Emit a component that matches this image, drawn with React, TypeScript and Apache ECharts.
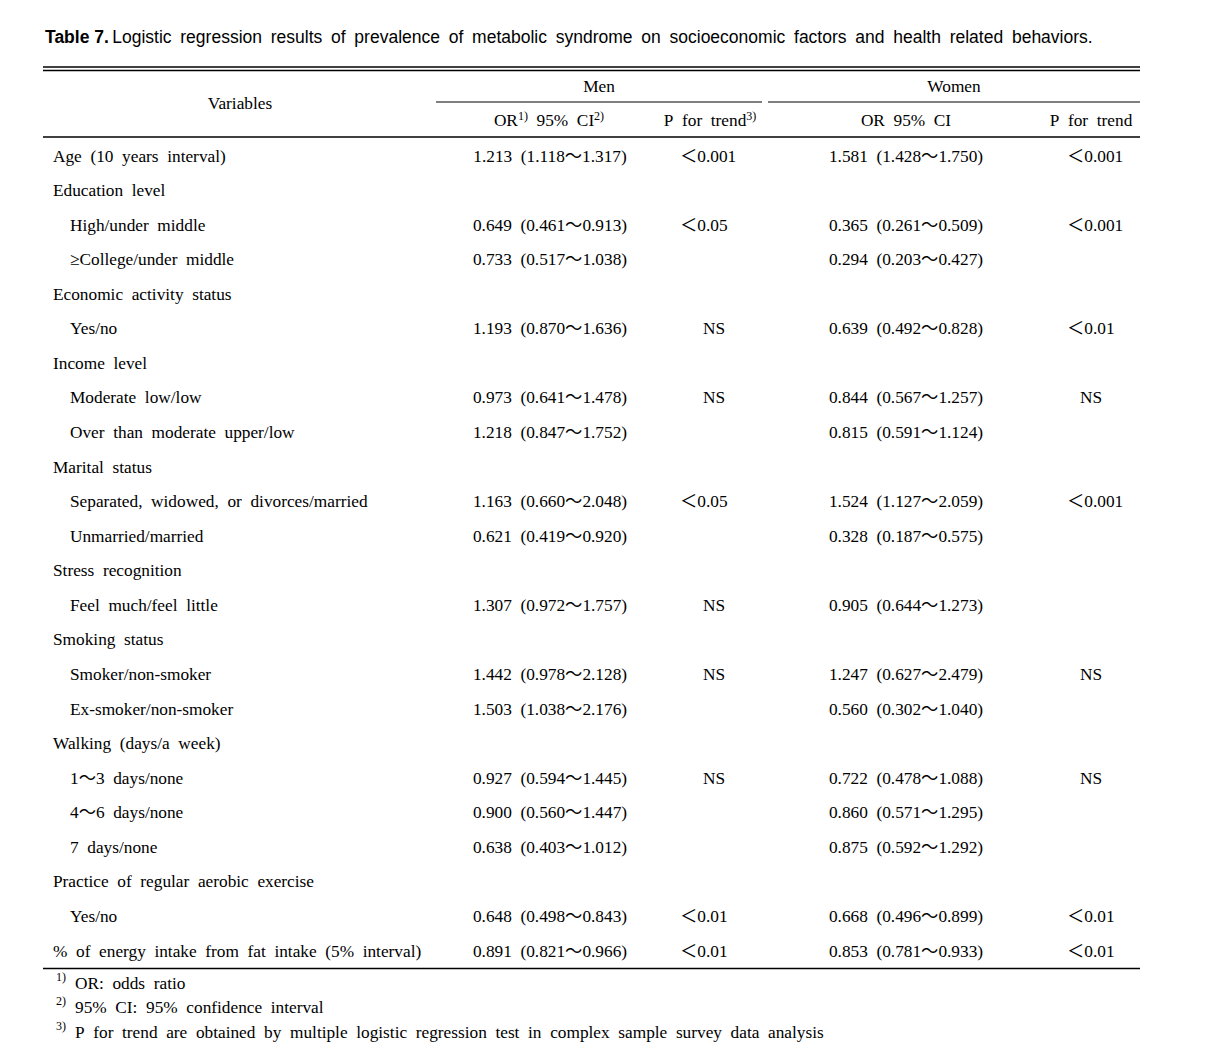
import React, { useEffect, useRef } from "react";
import * as echarts from "echarts";

const titleBold = "Table 7.";
const titleText = "Logistic regression results of prevalence of metabolic syndrome on socioeconomic factors and health related behaviors.";

const groupHeaders = ["Men", "Women"];
const subHeaders = ["OR{s|1)} 95% CI{s|2)}", "P for trend{s|3)}", "OR 95% CI", "P for trend"];

const variables = [
  "Age (10 years interval)",
  "Education level",
  "High/under middle",
  "≥College/under middle",
  "Economic activity status",
  "Yes/no",
  "Income level",
  "Moderate low/low",
  "Over than moderate upper/low",
  "Marital status",
  "Separated, widowed, or divorces/married",
  "Unmarried/married",
  "Stress recognition",
  "Feel much/feel little",
  "Smoking status",
  "Smoker/non-smoker",
  "Ex-smoker/non-smoker",
  "Walking (days/a week)",
  "1～3 days/none",
  "4～6 days/none",
  "7 days/none",
  "Practice of regular aerobic exercise",
  "Yes/no",
  "% of energy intake from fat intake (5% interval)",
];
const levels = [0, 0, 1, 1, 0, 1, 0, 1, 1, 0, 1, 1, 0, 1, 0, 1, 1, 0, 1, 1, 1, 0, 1, 0];

const menOR = [1.213, null, 0.649, 0.733, null, 1.193, null, 0.973, 1.218, null, 1.163, 0.621, null, 1.307, null, 1.442, 1.503, null, 0.927, 0.9, 0.638, null, 0.648, 0.891];
const menLo = [1.118, null, 0.461, 0.517, null, 0.87, null, 0.641, 0.847, null, 0.66, 0.419, null, 0.972, null, 0.978, 1.038, null, 0.594, 0.56, 0.403, null, 0.498, 0.821];
const menHi = [1.317, null, 0.913, 1.038, null, 1.636, null, 1.478, 1.752, null, 2.048, 0.92, null, 1.757, null, 2.128, 2.176, null, 1.445, 1.447, 1.012, null, 0.843, 0.966];
const menP = ["<0.001", "", "<0.05", "", "", "NS", "", "NS", "", "", "<0.05", "", "", "NS", "", "NS", "", "", "NS", "", "", "", "<0.01", "<0.01"];

const womenOR = [1.581, null, 0.365, 0.294, null, 0.639, null, 0.844, 0.815, null, 1.524, 0.328, null, 0.905, null, 1.247, 0.56, null, 0.722, 0.86, 0.875, null, 0.668, 0.853];
const womenLo = [1.428, null, 0.261, 0.203, null, 0.492, null, 0.567, 0.591, null, 1.127, 0.187, null, 0.644, null, 0.627, 0.302, null, 0.478, 0.571, 0.592, null, 0.496, 0.781];
const womenHi = [1.75, null, 0.509, 0.427, null, 0.828, null, 1.257, 1.124, null, 2.059, 0.575, null, 1.273, null, 2.479, 1.04, null, 1.088, 1.295, 1.292, null, 0.899, 0.933];
const womenP = ["<0.001", "", "<0.001", "", "", "<0.01", "", "NS", "", "", "<0.001", "", "", "", "", "NS", "", "", "NS", "", "", "", "<0.01", "<0.01"];

const footnoteMarks = ["1)", "2)", "3)"];
const footnotes = [
  "OR: odds ratio",
  "95% CI: 95% confidence interval",
  "P for trend are obtained by multiple logistic regression test in complex sample survey data analysis",
];

const SERIF = "'Liberation Serif', 'Noto Sans CJK KR', serif";
const SANS = "'Liberation Sans', 'Noto Sans CJK KR', sans-serif";
const FS = 17.3;
const SP = "\u2002";
const wide = (s: string) => s.replace(/ /g, SP).replace(/</g, "＜");

const fmt = (o: number | null, lo: number | null, hi: number | null) =>
  o == null ? "" : `${o.toFixed(3)}${SP}(${(lo as number).toFixed(3)}～${(hi as number).toFixed(3)})`;

function buildGraphics() {
  const els: any[] = [];
  const L = 43, R = 1140;
  const line = (x1: number, y1: number, x2: number, y2: number, w = 1.3) =>
    els.push({ type: "line", shape: { x1, y1, x2, y2 }, style: { stroke: "#000", lineWidth: w } });
  const text = (x: number, y: number, t: string, align = "left", extra: any = {}) =>
    els.push({
      type: "text",
      x,
      y,
      style: {
        text: t,
        fill: "#000",
        font: `${FS}px ${SERIF}`,
        fontFamily: SERIF,
        fontSize: FS,
        align,
        verticalAlign: "middle",
        ...extra,
      },
    });

  // title
  els.push({
    type: "text",
    x: 45,
    y: 37,
    style: {
      text: `{b|${titleBold}} {n|${titleText.replace(/ /g, SP)}}`,
      verticalAlign: "middle",
      rich: {
        b: { fontFamily: SANS, fontSize: 17.5, fontWeight: "bold", fill: "#000" },
        n: { fontFamily: SANS, fontSize: 17.5, fill: "#000" },
      },
    },
  });

  line(L, 67, R, 67);
  line(L, 70.5, R, 70.5);
  line(436, 102, 762, 102, 1.2);
  line(768, 102, R, 102, 1.2);
  line(L, 137, R, 137);
  line(L, 968.5, R, 968.5);

  text(240, 103, "Variables", "center");
  text(599, 86, groupHeaders[0], "center");
  text(954, 86, groupHeaders[1], "center");

  const subX = [549, 710, 906, 1091];
  const supRich = {
    m: { fontFamily: SERIF, fontSize: FS, fill: "#000", lineHeight: 20 },
    s: { fontFamily: SERIF, fontSize: 12, fill: "#000", verticalAlign: "top", lineHeight: 12 },
  };
  subHeaders.forEach((h, i) => {
    const parts = h.split(/(\{s\|[^}]*\})/).filter((p) => p.length);
    const rt = parts.map((p) => (p.startsWith("{s|") ? p : `{m|${p.replace(/ /g, SP)}}`)).join("");
    els.push({
      type: "text",
      x: subX[i],
      y: 120,
      style: { text: rt, align: "center", verticalAlign: "middle", rich: supRich },
    });
  });

  const y0 = 156, dy = (951 - 156) / 23;
  variables.forEach((v, i) => {
    const y = y0 + i * dy;
    text(levels[i] ? 70 : 53, y, wide(v));
    const m = fmt(menOR[i], menLo[i], menHi[i]);
    if (m) text(550, y, m, "center");
    const w = fmt(womenOR[i], womenLo[i], womenHi[i]);
    if (w) text(906, y, w, "center");
    if (menP[i]) {
      if (menP[i].startsWith("<")) text(680, y, wide(menP[i]));
      else text(714, y, menP[i], "center");
    }
    if (womenP[i]) {
      if (womenP[i].startsWith("<")) text(1067, y, wide(womenP[i]));
      else text(1091, y, womenP[i], "center");
    }
  });

  const fy = [983, 1007, 1032];
  footnotes.forEach((f, i) => {
    text(56, fy[i] - 6, footnoteMarks[i], "left", { fontSize: 12, font: `12px ${SERIF}` });
    text(75, fy[i], wide(f));
  });
  return els;
}

export default function App() {
  const ref = useRef<HTMLDivElement>(null);
  useEffect(() => {
    if (!ref.current) return;
    const chart = echarts.init(ref.current, null, { renderer: "svg" });
    chart.setOption({
      animation: false,
      backgroundColor: "#fff",
      graphic: { elements: buildGraphics() },
    });
    return () => chart.dispose();
  }, []);
  return (
    <div
      ref={ref}
      style={{ position: "absolute", left: 0, top: 0, width: 1206, height: 1056, background: "#fff" }}
    />
  );
}
